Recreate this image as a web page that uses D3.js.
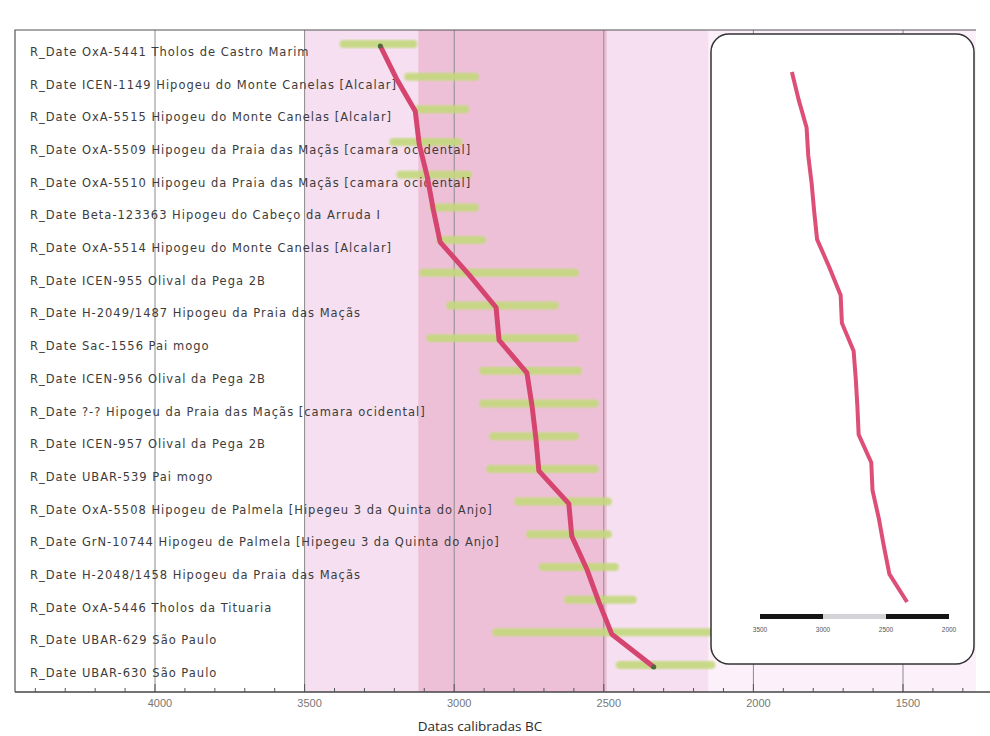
<!DOCTYPE html>
<html>
<head>
<meta charset="utf-8">
<script src="https://cdn.jsdelivr.net/npm/d3@7"></script>
<style>
  body { margin: 0; background: #fff; }
  svg { display: block; }
</style>
</head>
<body>
<div class="chart"></div>
<script>
// sample labels, top to bottom
const labels = [
  'R_Date OxA-5441 Tholos de Castro Marim',
  'R_Date ICEN-1149 Hipogeu do Monte Canelas [Alcalar]',
  'R_Date OxA-5515 Hipogeu do Monte Canelas [Alcalar]',
  'R_Date OxA-5509 Hipogeu da Praia das Maçãs [camara ocidental]',
  'R_Date OxA-5510 Hipogeu da Praia das Maçãs [camara ocidental]',
  'R_Date Beta-123363 Hipogeu do Cabeço da Arruda I',
  'R_Date OxA-5514 Hipogeu do Monte Canelas [Alcalar]',
  'R_Date ICEN-955 Olival da Pega 2B',
  'R_Date H-2049/1487 Hipogeu da Praia das Maçãs',
  'R_Date Sac-1556 Pai mogo',
  'R_Date ICEN-956 Olival da Pega 2B',
  'R_Date ?-? Hipogeu da Praia das Maçãs [camara ocidental]',
  'R_Date ICEN-957 Olival da Pega 2B',
  'R_Date UBAR-539 Pai mogo',
  'R_Date OxA-5508 Hipogeu de Palmela [Hipegeu 3 da Quinta do Anjo]',
  'R_Date GrN-10744 Hipogeu de Palmela [Hipegeu 3 da Quinta do Anjo]',
  'R_Date H-2048/1458 Hipogeu da Praia das Maçãs',
  'R_Date OxA-5446 Tholos da Tituaria',
  'R_Date UBAR-629 São Paulo',
  'R_Date UBAR-630 São Paulo'
];

// median of each calibrated date (cal BC) - the red line
const medians = [3247, 3193, 3130, 3117, 3090, 3070, 3047, 2950, 2860, 2850,
                 2757, 2740, 2727, 2717, 2617, 2607, 2557, 2517, 2473, 2333];

// main mass of each probability distribution (cal BC)
const peakFrom = [3383, 3167, 3133, 3217, 3193, 3083, 3060, 3117, 3027, 3093,
                  2917, 2917, 2883, 2893, 2800, 2760, 2717, 2633, 2873, 2460];
const peakTo   = [3123, 2917, 2950, 2973, 2940, 2917, 2893, 2583, 2650, 2583,
                  2573, 2517, 2583, 2517, 2473, 2473, 2450, 2390, 2127, 2127];

// full range (thin bar under each distribution)
const rangeFrom = [3400, 3217, 3183, 3217, 3217, 3200, 3217, 3317, 3027, 3383,
                   3350, 3183, 3050, 3367, 2850, 2883, 2883, 2850, 2917, 2517];
const rangeTo   = [3050, 2933, 2717, 2583, 2900, 2583, 2783, 2317, 2650, 2350,
                   2300, 2150, 2317, 2183, 2183, 2350, 2167, 2150, 2127, 2127];

// shaded phase bands (cal BC)
const bandFrom  = [3500, 3120];
const bandTo    = [2150, 2490];
const bandColor = ['#f6dff0', '#eec0d8'];

const ticks = [4000, 3500, 3000, 2500, 2000, 1500];
const insetTicks = [3500, 3000, 2500, 2000];

const width = 990, height = 736;
const svg = d3.select('.chart').append('svg')
  .attr('width', width).attr('height', height);

const x = d3.scaleLinear().domain([4000, 1500]).range([155, 903]);
const y = d3.scalePoint().domain(d3.range(labels.length)).range([52, 673]);
const pTop = 30, pBottom = 692, pLeft = 15, pRight = 976;

const defs = svg.append('defs');
defs.append('filter').attr('id', 'soft')
  .append('feGaussianBlur').attr('stdDeviation', 0.9);

// faint pink tint right of the phases
svg.append('rect')
  .attr('x', x(2150)).attr('y', pTop)
  .attr('width', pRight - x(2150)).attr('height', pBottom - pTop)
  .attr('fill', '#fcf1fa');

// phase bands
svg.selectAll('rect.band')
  .data(bandFrom)
  .enter()
  .append('rect')
  .attr('class', 'band')
  .attr('x', d => x(d))
  .attr('y', pTop)
  .attr('width', (d, i) => x(bandTo[i]) - x(d))
  .attr('height', pBottom - pTop)
  .attr('fill', (d, i) => bandColor[i]);

// vertical grid lines
svg.selectAll('line.grid')
  .data(ticks)
  .enter()
  .append('line')
  .attr('class', 'grid')
  .attr('x1', d => x(d)).attr('x2', d => x(d))
  .attr('y1', pTop).attr('y2', pBottom)
  .attr('stroke', '#8a8a8a')
  .attr('stroke-width', 1);

// frame
svg.append('path')
  .attr('d', `M${pLeft},${pBottom}V${pTop}H${pRight}`)
  .attr('fill', 'none')
  .attr('stroke', '#555')
  .attr('stroke-width', 1.2);

// distributions
const rows = svg.selectAll('g.row')
  .data(labels)
  .enter()
  .append('g')
  .attr('class', 'row')
  .attr('transform', (d, i) => 'translate(0,' + y(i) + ')');

rows.append('line')
  .attr('x1', (d, i) => x(rangeFrom[i]))
  .attr('x2', (d, i) => x(rangeTo[i]))
  .attr('y1', 0).attr('y2', 0)
  .attr('stroke', '#c4cf84')
  .attr('stroke-width', 1.8)
  .attr('filter', 'url(#soft)');

rows.append('rect')
  .attr('x', (d, i) => x(peakFrom[i]))
  .attr('width', (d, i) => x(peakTo[i]) - x(peakFrom[i]))
  .attr('y', -12)
  .attr('height', 8)
  .attr('rx', 4)
  .attr('fill', '#c3d97c')
  .attr('opacity', 0.9)
  .attr('filter', 'url(#soft)');

rows.append('text')
  .attr('x', 30)
  .attr('y', 4)
  .attr('font-family', 'DejaVu Sans, Verdana, sans-serif')
  .attr('font-size', 11.5)
  .attr('letter-spacing', 1)
  .attr('fill', '#3c3c3c')
  .text(d => d);

// red median line
const line = d3.line()
  .x(d => x(d))
  .y((d, i) => y(i) - 6);

svg.append('path')
  .datum(medians)
  .attr('d', line)
  .attr('fill', 'none')
  .attr('stroke', '#d6456f')
  .attr('stroke-width', 5)
  .attr('stroke-linejoin', 'round');

svg.selectAll('circle.end')
  .data([0, medians.length - 1])
  .enter()
  .append('circle')
  .attr('class', 'end')
  .attr('cx', i => x(medians[i]))
  .attr('cy', i => y(i) - 6)
  .attr('r', 2.5)
  .attr('fill', '#4d6b3a');

// x axis
const axis = svg.append('g')
  .attr('transform', 'translate(0,' + pBottom + ')');
axis.append('line')
  .attr('x1', pLeft).attr('x2', width)
  .attr('stroke', '#444').attr('stroke-width', 1.5);
axis.selectAll('line.minor')
  .data(d3.range(4400, 1199, -100))
  .enter()
  .append('line')
  .attr('class', 'minor')
  .attr('x1', d => x(d)).attr('x2', d => x(d))
  .attr('y1', 0).attr('y2', d => d % 500 === 0 ? -8 : -4)
  .attr('stroke', '#555');
axis.selectAll('text')
  .data(ticks)
  .enter()
  .append('text')
  .attr('x', d => x(d) + 5)
  .attr('y', 15)
  .attr('text-anchor', 'middle')
  .attr('font-family', 'Liberation Sans, Arial, sans-serif')
  .attr('font-size', 11)
  .attr('fill', '#777')
  .text(d => d);

svg.append('text')
  .attr('x', 480)
  .attr('y', 731)
  .attr('text-anchor', 'middle')
  .attr('font-family', 'Open Sans, sans-serif')
  .attr('font-size', 13.5)
  .attr('fill', '#2a2a2a')
  .text('Datas calibradas BC');

// inset box
svg.append('rect')
  .attr('x', 711).attr('y', 34)
  .attr('width', 263).attr('height', 630)
  .attr('rx', 18)
  .attr('fill', '#fff')
  .attr('stroke', '#333')
  .attr('stroke-width', 1.5);

const xi = d3.scaleLinear().domain([3500, 2000]).range([760, 949]);
const yi = d3.scalePoint().domain(d3.range(labels.length)).range([72, 602]);

svg.append('path')
  .datum(medians)
  .attr('d', d3.line().x(d => xi(d)).y((d, i) => yi(i)))
  .attr('fill', 'none')
  .attr('stroke', '#dd4f77')
  .attr('stroke-width', 4)
  .attr('stroke-linejoin', 'round');

svg.selectAll('rect.scale')
  .data(insetTicks.slice(0, -1))
  .enter()
  .append('rect')
  .attr('class', 'scale')
  .attr('x', d => xi(d))
  .attr('y', 614)
  .attr('width', d => xi(d - 500) - xi(d))
  .attr('height', 5)
  .attr('fill', (d, i) => i === 1 ? '#d4d4d8' : '#151515');

svg.selectAll('text.scale')
  .data(insetTicks)
  .enter()
  .append('text')
  .attr('class', 'scale')
  .attr('x', d => xi(d))
  .attr('y', 632)
  .attr('text-anchor', 'middle')
  .attr('font-family', 'Liberation Sans, Arial, sans-serif')
  .attr('font-size', 6.5)
  .attr('fill', '#555')
  .text(d => d);
</script>
</body>
</html>
